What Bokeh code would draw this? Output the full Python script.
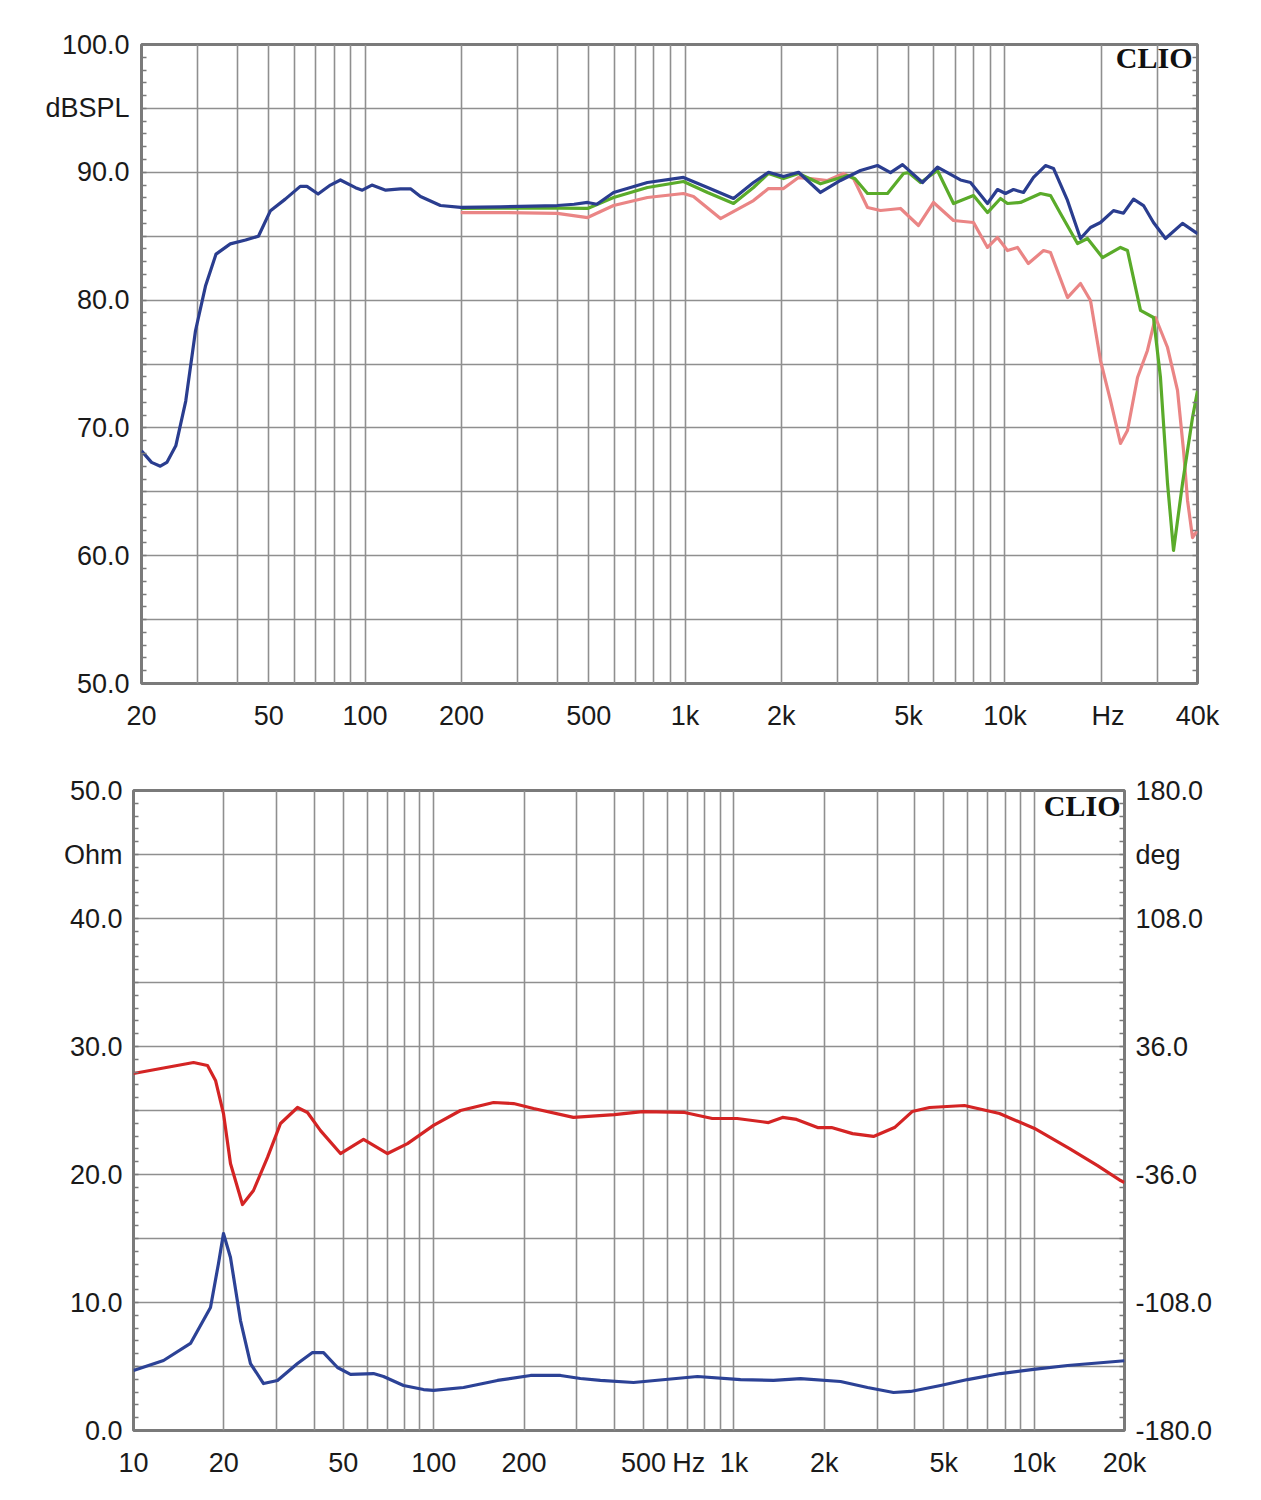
from bokeh.plotting import figure
from bokeh.models import FixedTicker, LinearAxis, Range1d, Label
from bokeh.layouts import column
from bokeh.embed import file_html
from bokeh.resources import INLINE

# ---------------- data: top chart (SPL, dB) ----------------
spl_blue_f = [20, 21.5, 22.9, 24, 25.6, 27.5, 29.5, 31.7, 34.2, 37.9, 42.3, 46.4, 50.6, 56.3, 62.7,
              65.8, 71.3, 77.9, 83.7, 93.3, 98, 105, 116, 129, 139, 149, 172, 199, 265, 399,
              450, 496, 530, 598, 763, 989, 1176, 1418, 1637, 1824, 2032, 2264, 2652, 3062, 3537,
              3996, 4390, 4786, 5526, 6155, 7262, 7808, 8822, 9480, 10040, 10636, 11430, 12286, 13392, 14186,
              15692, 17232, 18514, 19900, 21850, 23480, 25236, 27120, 29140, 31770, 35910, 40000]
spl_blue_db = [68.2, 67.3, 67.0, 67.3, 68.6, 72.1, 77.6, 81.1, 83.6, 84.4, 84.7, 85.0, 87.0, 87.9, 88.9,
               88.9, 88.3, 89.0, 89.4, 88.8, 88.6, 89.0, 88.6, 88.7, 88.7, 88.1, 87.4, 87.25, 87.3, 87.4,
               87.5, 87.64, 87.5, 88.42, 89.2, 89.6, 88.81, 87.95, 89.2, 90.0, 89.67, 90.0, 88.42, 89.36, 90.14,
               90.53, 89.98, 90.6, 89.2, 90.4, 89.4, 89.2, 87.56, 88.65, 88.34, 88.65, 88.42, 89.6, 90.53, 90.3,
               87.8, 84.82, 85.68, 86.07, 87.0, 86.8, 87.9, 87.4, 86.07, 84.82, 86.0, 85.2]

spl_green_f = [199, 265, 399, 496, 598, 763, 989, 1176, 1418, 1637, 1824, 2032, 2264, 2652, 3220,
               3400, 3720, 4296, 4820, 4996, 5448, 6155, 6908, 7978, 8822, 9688, 10188, 11188, 12924, 13886,
               14920, 16864, 18120, 20190, 22976, 24164, 26540, 29140, 30640, 32240, 33660, 35910, 38594, 40000]
spl_green_db = [87.17, 87.2, 87.2, 87.17, 88.03, 88.81, 89.28, 88.42, 87.56, 88.81, 89.91, 89.51, 89.91, 89.1, 89.75,
                89.5, 88.34, 88.34, 89.91, 89.98, 89.2, 90.14, 87.56, 88.18, 86.85, 87.95, 87.56, 87.64, 88.34, 88.18,
                86.78, 84.43, 84.82, 83.33, 84.12, 83.88, 79.19, 78.64, 73.94, 65.65, 60.41, 65.65, 70.81, 72.9]

spl_pink_f = [199, 265, 399, 496, 598, 763, 989, 1063, 1291, 1637, 1824, 2032, 2264, 2468, 2789,
              3130, 3364, 3720, 4084, 4717, 5370, 5982, 6908, 7978, 8822, 9480, 10188, 10948, 11840, 13206,
              13886, 15692, 17232, 18514, 19900, 21386, 22976, 24164, 25976, 27900, 29558, 32240, 34640, 36176, 37232,
              38594, 40000]
spl_pink_db = [86.85, 86.85, 86.78, 86.46, 87.4, 88.03, 88.34, 88.11, 86.38, 87.79, 88.73, 88.73, 89.59, 89.51, 89.36,
               89.91, 89.51, 87.25, 87.01, 87.17, 85.84, 87.64, 86.23, 86.07, 84.12, 84.9, 83.88, 84.12, 82.86, 83.88,
               83.72, 80.2, 81.3, 79.97, 75.27, 72.14, 68.78, 69.8, 73.94, 76.06, 78.64, 76.29, 72.93, 68.23, 64.32,
               61.42, 61.97]

spl_x_ticks = [20, 50, 100, 200, 500, 1000, 2000, 5000, 10000, 21000, 40000]
spl_x_labels = ["20", "50", "100", "200", "500", "1k", "2k", "5k", "10k", "Hz", "40k"]
spl_x_grid = [20, 30, 40, 50, 60, 70, 80, 90, 100, 200, 300, 400, 500, 600, 700, 800, 900,
              1000, 2000, 3000, 4000, 5000, 6000, 7000, 8000, 9000, 10000, 20000, 30000, 40000]
spl_y_ticks = [50, 60, 70, 80, 90, 95, 100]
spl_y_labels = ["50.0", "60.0", "70.0", "80.0", "90.0", "dBSPL", "100.0"]

# ---------------- data: bottom chart (impedance / phase) ----------------
imp_f = [10, 12.59, 15.48, 18.05, 19.19, 19.94, 21.04, 22.72, 24.53, 27.11, 30.17, 35.18, 39.47, 42.95, 47.81,
         52.83, 63.02, 68.04, 79.32, 92.48, 99.85, 125.7, 163.1, 210.2, 264.5, 308, 359, 463, 756, 1052,
         1355, 1667, 2265, 2786, 3401, 3876, 4877, 6001, 7730, 9954, 12920, 18670, 20000]
imp_ohm = [4.69, 5.47, 6.80, 9.61, 13.05, 15.39, 13.52, 8.59, 5.23, 3.67, 3.91, 5.23, 6.09, 6.09, 4.92,
           4.38, 4.45, 4.22, 3.52, 3.20, 3.13, 3.36, 3.91, 4.30, 4.30, 4.06, 3.91, 3.75, 4.22, 3.98,
           3.91, 4.06, 3.83, 3.36, 2.97, 3.05, 3.52, 3.98, 4.45, 4.77, 5.08, 5.39, 5.45]

ph_f = [10, 15.85, 17.64, 18.76, 19.94, 21.04, 23.07, 25.1, 27.95, 30.88, 35.18, 37.98, 41.97, 48.92, 58.38,
        70.17, 81.78, 99.85, 122.8, 158.2, 184.5, 215, 292, 400, 496, 685, 847, 1025, 1304, 1452,
        1617, 1900, 2114, 2484, 2917, 3427, 3924, 4484, 5862, 7668, 10030, 13120, 16270, 19410, 20000]
ph_deg = [20.8, 27.0, 25.3, 16.9, -1.7, -29.8, -52.9, -45.0, -26.4, -7.3, 1.7, -1.1, -11.3, -24.2, -16.3,
          -24.2, -18.6, -8.4, 0.0, 4.5, 3.9, 1.1, -3.9, -2.3, -0.6, -1.1, -4.5, -4.5, -6.8, -3.9,
          -5.0, -9.6, -9.6, -13.0, -14.6, -9.6, -0.6, 1.7, 2.8, -1.7, -10.1, -21.4, -31.0, -39.4, -40.5]

imp_x_ticks = [10, 20, 50, 100, 200, 500, 707, 1000, 2000, 5000, 10000, 20000]
imp_x_labels = ["10", "20", "50", "100", "200", "500", "Hz", "1k", "2k", "5k", "10k", "20k"]
imp_x_grid = [10, 20, 30, 40, 50, 60, 70, 80, 90, 100, 200, 300, 400, 500, 600, 700, 800, 900,
              1000, 2000, 3000, 4000, 5000, 6000, 7000, 8000, 9000, 10000, 20000]
imp_y_ticks = [0, 10, 20, 30, 40, 45, 50]
imp_y_labels = ["0.0", "10.0", "20.0", "30.0", "40.0", "Ohm", "50.0"]
deg_ticks = [-180, -108, -36, 36, 108, 144, 180]
deg_labels = ["-180.0", "-108.0", "-36.0", "36.0", "108.0", "deg", "180.0"]

# ---------------- styles ----------------
FONT = "Liberation Sans"
FS = "27px"
TXT = "#1a1a1a"
GRID = "#8f8f8f"
FRAME = "#7a7a7a"
BLUE = "#2a3d8f"
GREEN = "#5aab2a"
PINK = "#ea8585"
RED = "#d42424"
BLUE2 = "#2c4296"
LW = 3.2


def style_common(p):
    p.outline_line_color = FRAME
    p.outline_line_width = 3
    p.background_fill_color = "white"
    p.border_fill_color = "white"
    for g in p.grid:
        g.grid_line_color = GRID
        g.grid_line_width = 1.6


def style_axis(ax, ticks, labels, standoff, minor=None):
    ax.ticker = FixedTicker(ticks=ticks, minor_ticks=minor or [])
    ax.major_label_overrides = {t: s for t, s in zip(ticks, labels)}
    ax.axis_line_color = None
    ax.major_tick_in = 0
    ax.major_tick_out = 0
    ax.minor_tick_in = 5 if minor else 0
    ax.minor_tick_out = 0
    ax.minor_tick_line_color = FRAME
    ax.minor_tick_line_width = 1.5
    ax.major_label_text_font = FONT
    ax.major_label_text_font_size = FS
    ax.major_label_text_color = TXT
    ax.major_label_standoff = standoff


# ---------------- top figure ----------------
p1 = figure(width=1253, height=753, x_axis_type="log",
            x_range=Range1d(20, 40000), y_range=Range1d(50, 100),
            output_backend="svg", toolbar_location=None,
            min_border_left=141, min_border_right=56, min_border_top=44, min_border_bottom=70)
p1.frame_align = False
style_common(p1)
p1.xgrid[0].ticker = FixedTicker(ticks=spl_x_grid)
p1.ygrid[0].ticker = FixedTicker(ticks=[55, 60, 65, 70, 75, 80, 85, 90, 95])
style_axis(p1.xaxis[0], spl_x_ticks, spl_x_labels, 17)
style_axis(p1.yaxis[0], spl_y_ticks, spl_y_labels, 12, minor=list(range(50, 101)))
r1 = LinearAxis()
style_axis(r1, [], [], 5, minor=list(range(50, 101)))
p1.add_layout(r1, "right")

p1.line(spl_pink_f, spl_pink_db, line_color=PINK, line_width=LW, line_join="round")
p1.line(spl_green_f, spl_green_db, line_color=GREEN, line_width=LW, line_join="round")
p1.line(spl_blue_f, spl_blue_db, line_color=BLUE, line_width=LW, line_join="round")

p1.add_layout(Label(x=38600, y=98.98, text="CLIO", text_align="right", text_baseline="alphabetic",
                    text_font="Liberation Serif", text_font_style="bold", text_font_size="30px",
                    text_color="#111111"))

# ---------------- bottom figure ----------------
p2 = figure(width=1253, height=737, x_axis_type="log",
            x_range=Range1d(10, 20000), y_range=Range1d(0, 50),
            output_backend="svg", toolbar_location=None,
            min_border_left=133, min_border_right=129, min_border_top=37, min_border_bottom=60)
p2.frame_align = False
p2.extra_y_ranges = {"deg": Range1d(-180, 180)}
style_common(p2)
p2.xgrid[0].ticker = FixedTicker(ticks=imp_x_grid)
p2.ygrid[0].ticker = FixedTicker(ticks=[5, 10, 15, 20, 25, 30, 35, 40, 45])
style_axis(p2.xaxis[0], imp_x_ticks, imp_x_labels, 17)
style_axis(p2.yaxis[0], imp_y_ticks, imp_y_labels, 11, minor=list(range(0, 51)))
r2 = LinearAxis(y_range_name="deg")
style_axis(r2, deg_ticks, deg_labels, 11, minor=[round(-180 + 7.2 * i, 1) for i in range(51)])
p2.add_layout(r2, "right")

p2.line(ph_f, ph_deg, line_color=RED, line_width=LW, line_join="round", y_range_name="deg")
p2.line(imp_f, imp_ohm, line_color=BLUE2, line_width=LW, line_join="round")

p2.add_layout(Label(x=19400, y=48.83, text="CLIO", text_align="right", text_baseline="alphabetic",
                    text_font="Liberation Serif", text_font_style="bold", text_font_size="30px",
                    text_color="#111111"))

layout = column(p1, p2)
open("out.html", "w").write(file_html(layout, INLINE))
